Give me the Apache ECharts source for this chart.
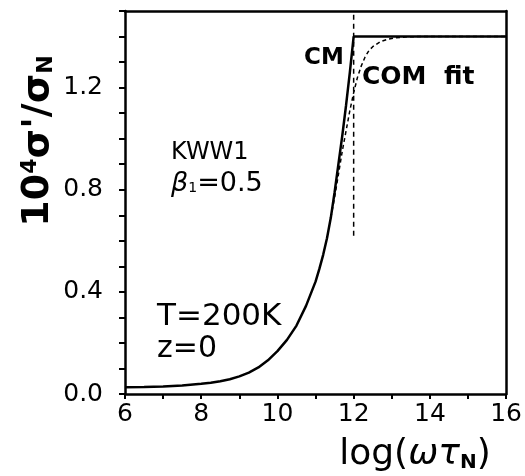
<!DOCTYPE html>
<html>
<head>
<meta charset="utf-8">
<script src="https://cdn.jsdelivr.net/npm/echarts@6/dist/echarts.min.js"></script>
<style>html,body{margin:0;padding:0;background:#fff}#c{width:525px;height:476px}</style>
</head>
<body>
<div id="c"></div>
<script>
var xCM = [6, 6.5, 7, 7.5, 8, 8.25, 8.5, 8.75, 9, 9.25, 9.5, 9.75, 10, 10.25, 10.5, 10.75, 11, 11.1, 11.2, 11.3, 11.4, 11.5, 11.6, 11.7, 11.8, 11.9, 12.0, 16];
var yCM = [0.026, 0.027, 0.029, 0.033, 0.040, 0.044, 0.050, 0.058, 0.069, 0.084, 0.104, 0.132, 0.168, 0.212, 0.268, 0.345, 0.44, 0.49, 0.545, 0.61, 0.69, 0.79, 0.90, 1.01, 1.13, 1.26, 1.40, 1.40];
var xCOM = [11.4, 11.5, 11.6, 11.7, 11.8, 11.9, 12.0, 12.1, 12.2, 12.3, 12.4, 12.5, 12.7, 12.9, 13.1, 13.4, 13.8, 16];
var yCOM = [0.69, 0.77, 0.86, 0.95, 1.03, 1.11, 1.18, 1.24, 1.285, 1.32, 1.345, 1.36, 1.38, 1.39, 1.395, 1.399, 1.40, 1.40];
var xVline = [12, 12];
var yVline = [0.62, 1.5];
var xTickLabels = [6, 8, 10, 12, 14, 16];
var yTickLabels = [0.0, 0.4, 0.8, 1.2];

function zip(a, b) { return a.map(function (v, i) { return [v, b[i]]; }); }
var FONT = '"DejaVu Sans", sans-serif';
function axLine() { return {show: true, onZero: false, lineStyle: {color: '#000', width: 2.5}}; }
var chart = echarts.init(document.getElementById('c'), null, {renderer: 'canvas'});
chart.setOption({
  animation: false,
  backgroundColor: '#fff',
  grid: {left: 125, right: 18, top: 11, bottom: 82, containLabel: false},
  xAxis: [{
    type: 'value', min: 6, max: 16, interval: 1,
    axisLine: axLine(),
    axisTick: {show: true, inside: false, length: 5, lineStyle: {color: '#000', width: 2}},
    splitLine: {show: false},
    axisLabel: {
      show: true, margin: 8, color: '#000', fontSize: 25, fontFamily: FONT,
      formatter: function (v) { return xTickLabels.indexOf(Math.round(v)) >= 0 && Math.abs(v - Math.round(v)) < 1e-6 ? String(Math.round(v)) : ''; }
    }
  }, {
    type: 'value', position: 'top', min: 6, max: 16, show: true,
    axisLine: axLine(), axisTick: {show: false}, axisLabel: {show: false}, splitLine: {show: false}
  }],
  yAxis: [{
    type: 'value', min: 0, max: 1.5, interval: 0.1,
    axisLine: axLine(),
    axisTick: {show: true, inside: false, length: 6, lineStyle: {color: '#000', width: 2}},
    splitLine: {show: false},
    axisLabel: {
      show: true, margin: 22, color: '#000', fontSize: 25, fontFamily: FONT,
      formatter: function (v) {
        for (var i = 0; i < yTickLabels.length; i++) {
          if (Math.abs(v - yTickLabels[i]) < 1e-6) return yTickLabels[i].toFixed(1);
        }
        return '';
      }
    }
  }, {
    type: 'value', position: 'right', min: 0, max: 1.5, show: true,
    axisLine: axLine(), axisTick: {show: false}, axisLabel: {show: false}, splitLine: {show: false}
  }],
  series: [{
    type: 'line', name: 'CM', data: zip(xCM, yCM), showSymbol: false, symbol: 'none',
    lineStyle: {color: '#000', width: 2.5}
  }, {
    type: 'line', name: 'COM fit', data: zip(xCOM, yCOM), showSymbol: false, symbol: 'none',
    lineStyle: {color: '#000', width: 1.5, type: [4, 3]}
  }, {
    type: 'line', name: 'vline', data: zip(xVline, yVline), showSymbol: false, symbol: 'none',
    lineStyle: {color: '#000', width: 1.5, type: [5, 4]}
  }],
  graphic: [{
    type: 'text', x: 38, y: 141, rotation: Math.PI / 2,
    style: {
      text: '{b|10}{sup|4}{b|σ\'/σ}{sub|N}',
      align: 'center', verticalAlign: 'middle', fill: '#000',
      rich: {
        b: {fontSize: 38, fontFamily: FONT, fontWeight: 'bold', fill: '#000', verticalAlign: 'bottom'},
        sup: {fontSize: 22, fontFamily: FONT, fontWeight: 'bold', fill: '#000', verticalAlign: 'top', padding: [0, 0, 16, 0]},
        sub: {fontSize: 22, fontFamily: FONT, fontWeight: 'bold', fill: '#000', verticalAlign: 'bottom', padding: [10, 0, 0, 0]}
      }
    }
  }, {
    type: 'text', x: 415, y: 455,
    style: {
      text: '{r|log(}{i|ωτ}{sub|N}{r|)}',
      align: 'center', verticalAlign: 'middle', fill: '#000',
      rich: {
        r: {fontSize: 36, fontFamily: FONT, fill: '#000'},
        i: {fontSize: 36, fontFamily: FONT, fontStyle: 'italic', fill: '#000'},
        sub: {fontSize: 20, fontFamily: FONT, fontWeight: 'bold', fill: '#000', padding: [15, 0, 0, 0]}
      }
    }
  }, {
    type: 'text', x: 304, y: 47,
    style: {text: 'CM', fontSize: 23, fontFamily: FONT, fontWeight: 'bold', fill: '#000'}
  }, {
    type: 'text', x: 362, y: 65,
    style: {text: 'COM  fit', fontSize: 25, fontFamily: FONT, fontWeight: 'bold', fill: '#000'}
  }, {
    type: 'text', x: 171, y: 141,
    style: {text: 'KWW1', fontSize: 24, fontFamily: FONT, fill: '#000'}
  }, {
    type: 'text', x: 171, y: 170,
    style: {
      text: '{i|β}{sub|1}{r|=0.5}', fill: '#000',
      rich: {
        i: {fontSize: 27, fontFamily: FONT, fontStyle: 'italic', fill: '#000'},
        sub: {fontSize: 14, fontFamily: FONT, fill: '#000', padding: [10, 0, 0, 0]},
        r: {fontSize: 27, fontFamily: FONT, fill: '#000'}
      }
    }
  }, {
    type: 'text', x: 157, y: 301,
    style: {text: 'T=200K', fontSize: 31, fontFamily: FONT, fill: '#000'}
  }, {
    type: 'text', x: 157, y: 334,
    style: {text: 'z=0', fontSize: 30, fontFamily: FONT, fill: '#000'}
  }]
});
</script>
</body>
</html>
